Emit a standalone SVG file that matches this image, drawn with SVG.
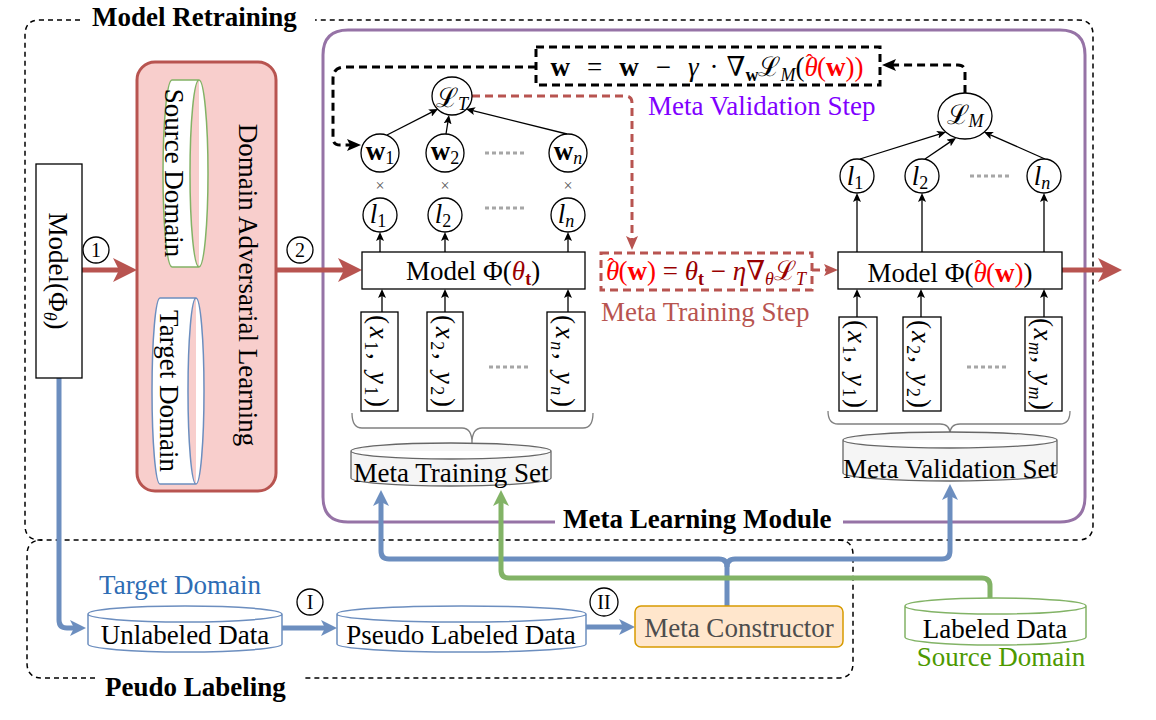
<svg xmlns="http://www.w3.org/2000/svg" width="1156" height="720" viewBox="0 0 1156 720">
<defs>
<style>
text{font-family:"Liberation Serif","DejaVu Serif",serif;font-size:27px;fill:#000}
.b{font-weight:bold}
.i{font-style:italic}
.s{font-size:18px}
.hat{font-size:22px;font-style:normal}
.node{fill:#fff;stroke:#000;stroke-width:1.3}
.thin{fill:none;stroke:#000;stroke-width:1.3}
.red{fill:none;stroke:#b85450;stroke-width:5}
.blue{fill:none;stroke:#6c8ebf;stroke-width:5}
.green{fill:none;stroke:#82b366;stroke-width:5}
.dots{fill:none;stroke:#a6a6a6;stroke-width:3;stroke-dasharray:4 3}
.frame{fill:none;stroke:#000;stroke-width:1.5;stroke-dasharray:5 4}
.bdash{fill:none;stroke:#000;stroke-width:3;stroke-dasharray:8 5}
.rdash{fill:none;stroke:#b85450;stroke-width:3;stroke-dasharray:8 5}
.brace{fill:none;stroke:#808080;stroke-width:1.3}
.gcyl{fill:#f5f5f5;stroke:#666;stroke-width:1.3}
.bcyl{fill:#fff;stroke:#6c8ebf;stroke-width:1.5}
.grcyl{fill:#fff;stroke:#82b366;stroke-width:1.5}
.cnum{font-size:20px}
.times{font-size:16px;fill:#555}
.rd{fill:#ff0000}
.dr{fill:#990000}
</style>
<marker id="aRed" markerUnits="userSpaceOnUse" viewBox="0 0 24 24" markerWidth="24" markerHeight="24" refX="6" refY="12" orient="auto"><path d="M0,0 L24,12 L0,24 L6,12 z" fill="#b85450"/></marker>
<marker id="aBlue" markerUnits="userSpaceOnUse" viewBox="0 0 16 16" markerWidth="16" markerHeight="16" refX="4" refY="8" orient="auto"><path d="M0,0 L16,8 L0,16 L4,8 z" fill="#6c8ebf"/></marker>
<marker id="aGreen" markerUnits="userSpaceOnUse" viewBox="0 0 16 16" markerWidth="16" markerHeight="16" refX="4" refY="8" orient="auto"><path d="M0,0 L16,8 L0,16 L4,8 z" fill="#82b366"/></marker>
<marker id="aBlk" markerUnits="userSpaceOnUse" viewBox="0 0 9 8" markerWidth="9" markerHeight="8" refX="2" refY="4" orient="auto"><path d="M0,0 L9,4 L0,8 L2,4 z" fill="#000"/></marker>
<marker id="aBd" markerUnits="userSpaceOnUse" viewBox="0 0 14 12" markerWidth="14" markerHeight="12" refX="3" refY="6" orient="auto"><path d="M0,0 L14,6 L0,12 L3,6 z" fill="#000"/></marker>
<marker id="aRd" markerUnits="userSpaceOnUse" viewBox="0 0 14 12" markerWidth="14" markerHeight="12" refX="3" refY="6" orient="auto"><path d="M0,0 L14,6 L0,12 L3,6 z" fill="#b85450"/></marker>
</defs>

<g id="model-retraining">
<path class="frame" d="M80,20 L40,20 Q25,20 25,35 L25,525 Q25,540 40,540 L1078,540 Q1093,540 1093,525 L1093,35 Q1093,20 1078,20 L315,20"/>
<text class="b" x="92" y="26">Model Retraining</text>
</g>
<g id="peudo-labeling">
<path class="frame" d="M95,678 L42,678 Q27,678 27,663 L27,555 Q27,540 42,540 M838,540 Q853,540 853,555 L853,663 Q853,678 838,678 L302,678"/>
<text class="b" x="105" y="696">Peudo Labeling</text>
</g>
<g id="meta-learning-module">
<path fill="none" stroke="#9673a6" stroke-width="3" d="M555,522 L348,522 Q323,522 323,497 L323,55 Q323,30 348,30 L1060,30 Q1085,30 1085,55 L1085,497 Q1085,522 1060,522 L843,522"/>
<text class="b" x="563" y="528">Meta Learning Module</text>
</g>

<g id="connectors">
<path class="red" d="M82,270 L119,270" marker-end="url(#aRed)"/>
<path class="red" d="M276,270 L344,270" marker-end="url(#aRed)"/>
<path class="red" d="M1062,270 L1104,270" marker-end="url(#aRed)"/>
<path class="rdash" d="M472,96 L625,96 Q632,96 632,103 L632,239" marker-end="url(#aRd)"/>
<path class="rdash" d="M812,270 L827,270" marker-end="url(#aRd)"/>
<path class="bdash" d="M536,67 L345,67 Q333,67 333,79 L333,138 Q333,145 340,145 L350,145" marker-end="url(#aBd)"/>
<path class="bdash" d="M965,93 L965,72 Q965,65 958,65 L893,65" marker-end="url(#aBd)"/>
<path class="thin" d="M387,135 L431.8,112.2" marker-end="url(#aBlk)"/>
<path class="thin" d="M446,134 L447.9,121.9" marker-end="url(#aBlk)"/>
<path class="thin" d="M567,134 L472.8,110.7" marker-end="url(#aBlk)"/>
<path class="thin" d="M380,252 L380,239" marker-end="url(#aBlk)"/>
<path class="thin" d="M445,252 L445,239" marker-end="url(#aBlk)"/>
<path class="thin" d="M568,252 L568,239" marker-end="url(#aBlk)"/>
<path class="thin" d="M382,312 L382,296" marker-end="url(#aBlk)"/>
<path class="thin" d="M445,312 L445,296" marker-end="url(#aBlk)"/>
<path class="thin" d="M568,312 L568,296" marker-end="url(#aBlk)"/>
<path class="thin" d="M857,252 L857,200" marker-end="url(#aBlk)"/>
<path class="thin" d="M922,252 L922,200" marker-end="url(#aBlk)"/>
<path class="thin" d="M1044,252 L1044,200" marker-end="url(#aBlk)"/>
<path class="thin" d="M857,317 L857,296" marker-end="url(#aBlk)"/>
<path class="thin" d="M921,317 L921,296" marker-end="url(#aBlk)"/>
<path class="thin" d="M1044,317 L1044,296" marker-end="url(#aBlk)"/>
<path class="thin" d="M860,159 L939.3,134.1" marker-end="url(#aBlk)"/>
<path class="thin" d="M925,159 L950.2,141.9" marker-end="url(#aBlk)"/>
<path class="thin" d="M1045,159 L990.4,134.8" marker-end="url(#aBlk)"/>
<path class="blue" d="M59,378 L59,620 Q59,628 67,628 L74,628" marker-end="url(#aBlue)"/>
<path class="blue" d="M282,628 L325,628" marker-end="url(#aBlue)"/>
<path class="blue" d="M586,627 L623,627" marker-end="url(#aBlue)"/>
<path class="blue" d="M727,606 L727,567 Q727,559 719,559 L389,559 Q381,559 381,551 L381,502" marker-end="url(#aBlue)"/>
<path class="blue" d="M727,567 Q727,559 735,559 L942,559 Q950,559 950,551 L950,496" marker-end="url(#aBlue)"/>
<path class="green" d="M990,598 L990,586 Q990,578 982,578 L509,578 Q501,578 501,570 L501,502" marker-end="url(#aGreen)"/>
<circle class="node" cx="96" cy="250" r="13"/><text class="cnum" x="96" y="257" text-anchor="middle">1</text>
<circle class="node" cx="300" cy="250" r="13"/><text class="cnum" x="300" y="257" text-anchor="middle">2</text>
<circle class="node" cx="310" cy="602" r="13"/><text class="cnum" x="310" y="609" text-anchor="middle">I</text>
<circle class="node" cx="604" cy="602" r="14"/><text class="cnum" x="604" y="609" text-anchor="middle">II</text>
</g>

<g id="model-phi">
<rect class="node" x="36" y="164" width="46" height="214"/>
<text transform="translate(49,271) rotate(90)" text-anchor="middle">Model(Φ<tspan class="s i" dy="5">θ</tspan><tspan dy="-5">)</tspan></text>
</g>
<g id="domain-adversarial">
<rect x="137" y="62" width="139" height="429" rx="18" fill="#f8cecc" stroke="#b85450" stroke-width="3"/>
<text transform="translate(239,285) rotate(90)" text-anchor="middle">Domain Adversarial Learning</text>
</g>
<g id="source-domain-cyl">
<path class="grcyl" d="M199,80 A9,93.5 0 0,1 199,267 L172,267 A9,93.5 0 0,1 172,80 Z M199,80 A9,93.5 0 0,0 199,267"/>
<text transform="translate(165,173) rotate(90)" text-anchor="middle">Source Domain</text>
</g>
<g id="target-domain-cyl">
<path class="bcyl" d="M196,298 A8,93 0 0,1 196,484 L160,484 A8,93 0 0,1 160,298 Z M196,298 A8,93 0 0,0 196,484"/>
<text transform="translate(160,391) rotate(90)" text-anchor="middle">Target Domain</text>
</g>

<g id="loss-t">
<ellipse class="node" cx="452" cy="96" rx="20" ry="19"/>
<text x="452" y="107" text-anchor="middle" font-size="26">ℒ<tspan class="s i" dy="3">T</tspan></text>
</g>
<g id="w-nodes">
<circle class="node" cx="380" cy="153" r="19"/><text x="380" y="160" text-anchor="middle"><tspan class="b">w</tspan><tspan class="s" dy="4">1</tspan></text>
<circle class="node" cx="445" cy="153" r="19"/><text x="445" y="160" text-anchor="middle"><tspan class="b">w</tspan><tspan class="s" dy="4">2</tspan></text>
<circle class="node" cx="568" cy="153" r="19"/><text x="568" y="160" text-anchor="middle"><tspan class="b">w</tspan><tspan class="s i" dy="4">n</tspan></text>
<path class="dots" d="M485,153 L525,153"/>
<text class="times" x="380" y="191" text-anchor="middle">×</text>
<text class="times" x="445" y="191" text-anchor="middle">×</text>
<text class="times" x="568" y="191" text-anchor="middle">×</text>
</g>
<g id="l-nodes-t">
<circle class="node" cx="380" cy="215" r="17"/><text x="378" y="223" text-anchor="middle"><tspan class="i">l</tspan><tspan class="s" dy="4">1</tspan></text>
<circle class="node" cx="445" cy="215" r="17"/><text x="443" y="223" text-anchor="middle"><tspan class="i">l</tspan><tspan class="s" dy="4">2</tspan></text>
<circle class="node" cx="568" cy="215" r="17"/><text x="566" y="223" text-anchor="middle"><tspan class="i">l</tspan><tspan class="s i" dy="4">n</tspan></text>
<path class="dots" d="M485,208 L525,208"/>
</g>
<g id="model-theta-t">
<rect class="node" x="362" y="252" width="223" height="37"/>
<text x="473" y="280" text-anchor="middle">Model Φ(<tspan class="i dr">θ</tspan><tspan class="s b dr" dy="5">t</tspan><tspan dy="-5">)</tspan></text>
</g>
<g id="train-samples">
<rect class="node" x="361" y="312" width="37" height="99"/>
<text transform="translate(370,361) rotate(90)" text-anchor="middle" font-size="28" textLength="92" lengthAdjust="spacing">(<tspan class="i">x</tspan><tspan class="s" dy="5">1</tspan><tspan dy="-5">, </tspan><tspan class="i">y</tspan><tspan class="s" dy="5">1</tspan><tspan dy="-5">)</tspan></text>
<rect class="node" x="427" y="312" width="36" height="99"/>
<text transform="translate(436,361) rotate(90)" text-anchor="middle" font-size="28" textLength="92" lengthAdjust="spacing">(<tspan class="i">x</tspan><tspan class="s" dy="5">2</tspan><tspan dy="-5">, </tspan><tspan class="i">y</tspan><tspan class="s" dy="5">2</tspan><tspan dy="-5">)</tspan></text>
<rect class="node" x="547" y="312" width="38" height="99"/>
<text transform="translate(556,361) rotate(90)" text-anchor="middle" font-size="28" textLength="92" lengthAdjust="spacing">(<tspan class="i">x</tspan><tspan class="s i" dy="5">n</tspan><tspan dy="-5">, </tspan><tspan class="i">y</tspan><tspan class="s i" dy="5">n</tspan><tspan dy="-5">)</tspan></text>
<path class="dots" d="M489,367 L529,367"/>
<path class="brace" d="M352,413 Q352,428 362,428 L462,428 Q472,428 472,443 Q472,428 482,428 L583,428 Q593,428 593,413"/>
</g>
<g id="meta-training-set">
<path class="gcyl" d="M351,451 A100,8 0 0,1 551,451 L551,478 A100,8 0 0,1 351,478 Z M351,451 A100,8 0 0,0 551,451"/>
<text x="451" y="482" text-anchor="middle" font-size="26">Meta Training Set</text>
</g>

<g id="meta-validation-step">
<rect class="bdash" x="536" y="47" width="344" height="38"/>
<text x="707" y="76" text-anchor="middle" font-size="28"><tspan class="b">w</tspan><tspan dx="17">=</tspan><tspan class="b" dx="17">w</tspan><tspan dx="17">−</tspan><tspan class="i" dx="17">γ</tspan><tspan dx="11">·</tspan><tspan dx="8">∇</tspan><tspan class="s b" dy="5">w</tspan><tspan dy="-5">ℒ</tspan><tspan class="s i" dy="5">M</tspan><tspan dy="-5">(</tspan><tspan class="i rd">θ</tspan><tspan class="hat rd" dx="-12" dy="-7">ˆ</tspan><tspan class="rd" dx="4" dy="7">(</tspan><tspan class="b rd">w</tspan><tspan class="rd">))</tspan></text>
<text x="648" y="115" style="fill:#7f00ff">Meta Validation Step</text>
</g>
<g id="meta-training-step">
<rect class="rdash" x="601" y="253" width="211" height="37"/>
<text x="706" y="280" text-anchor="middle"><tspan class="i rd">θ</tspan><tspan class="hat rd" dx="-12" dy="-7">ˆ</tspan><tspan class="rd" dx="4" dy="7">(</tspan><tspan class="b rd">w</tspan><tspan class="rd">)</tspan><tspan class="dr"> = </tspan><tspan class="i dr">θ</tspan><tspan class="s b dr" dy="5">t</tspan><tspan class="dr" dy="-5"> − </tspan><tspan class="i dr">η</tspan><tspan class="dr">∇</tspan><tspan class="s i dr" dy="5">θ</tspan><tspan class="dr" dy="-5">ℒ</tspan><tspan class="s i dr" dy="5">T</tspan></text>
<text x="601" y="321" style="fill:#b85450">Meta Training Step</text>
</g>

<g id="loss-m">
<ellipse class="node" cx="965" cy="116" rx="27" ry="23"/>
<text x="965" y="124" text-anchor="middle" font-size="26">ℒ<tspan class="s i" dy="3">M</tspan></text>
</g>
<g id="l-nodes-m">
<circle class="node" cx="857" cy="176" r="17"/><text x="855" y="185" text-anchor="middle"><tspan class="i">l</tspan><tspan class="s" dy="4">1</tspan></text>
<circle class="node" cx="922" cy="176" r="17"/><text x="920" y="185" text-anchor="middle"><tspan class="i">l</tspan><tspan class="s" dy="4">2</tspan></text>
<circle class="node" cx="1044" cy="176" r="17"/><text x="1042" y="185" text-anchor="middle"><tspan class="i">l</tspan><tspan class="s i" dy="4">n</tspan></text>
<path class="dots" d="M970,176 L1010,176"/>
</g>
<g id="model-theta-hat">
<rect class="node" x="838" y="252" width="224" height="37"/>
<text x="950" y="282" text-anchor="middle">Model Φ(<tspan class="i rd">θ</tspan><tspan class="hat rd" dx="-12" dy="-7">ˆ</tspan><tspan class="rd" dx="4" dy="7">(</tspan><tspan class="b rd">w</tspan><tspan class="rd">)</tspan>)</text>
</g>
<g id="val-samples">
<rect class="node" x="839" y="317" width="38" height="94"/>
<text transform="translate(848,364) rotate(90)" text-anchor="middle" font-size="28" textLength="88" lengthAdjust="spacing">(<tspan class="i">x</tspan><tspan class="s" dy="5">1</tspan><tspan dy="-5">, </tspan><tspan class="i">y</tspan><tspan class="s" dy="5">1</tspan><tspan dy="-5">)</tspan></text>
<rect class="node" x="903" y="317" width="38" height="94"/>
<text transform="translate(912,364) rotate(90)" text-anchor="middle" font-size="28" textLength="88" lengthAdjust="spacing">(<tspan class="i">x</tspan><tspan class="s" dy="5">2</tspan><tspan dy="-5">, </tspan><tspan class="i">y</tspan><tspan class="s" dy="5">2</tspan><tspan dy="-5">)</tspan></text>
<rect class="node" x="1025" y="317" width="37" height="94"/>
<text transform="translate(1034,364) rotate(90)" text-anchor="middle" font-size="28" textLength="92" lengthAdjust="spacing">(<tspan class="i">x</tspan><tspan class="s i" dy="5">m</tspan><tspan dy="-5">, </tspan><tspan class="i">y</tspan><tspan class="s i" dy="5">m</tspan><tspan dy="-5">)</tspan></text>
<path class="dots" d="M967,367 L1007,367"/>
<path class="brace" d="M828,411 Q828,424 838,424 L940,424 Q950,424 950,434 Q950,424 960,424 L1060,424 Q1070,424 1070,411"/>
</g>
<g id="meta-validation-set">
<path class="gcyl" d="M843,440 A107,8 0 0,1 1057,440 L1057,473 A107,8 0 0,1 843,473 Z M843,440 A107,8 0 0,0 1057,440"/>
<text x="950" y="478" text-anchor="middle" font-size="25.5">Meta Validation Set</text>
</g>

<g id="unlabeled-data">
<text x="180" y="594" text-anchor="middle" style="fill:#2e6db4">Target Domain</text>
<path class="bcyl" d="M88,614 A97,8 0 0,1 282,614 L282,644 A97,8 0 0,1 88,644 Z M88,614 A97,8 0 0,0 282,614"/>
<text x="185" y="644" text-anchor="middle">Unlabeled Data</text>
</g>
<g id="pseudo-labeled-data">
<path class="bcyl" d="M337,614 A124.5,8 0 0,1 586,614 L586,644 A124.5,8 0 0,1 337,644 Z M337,614 A124.5,8 0 0,0 586,614"/>
<text x="461" y="644" text-anchor="middle">Pseudo Labeled Data</text>
</g>
<g id="meta-constructor">
<rect x="635" y="606" width="208" height="41" rx="6" fill="#ffe6cc" stroke="#d79b00" stroke-width="1.5"/>
<text x="739" y="637" text-anchor="middle" style="fill:#4d4d4d">Meta Constructor</text>
</g>
<g id="labeled-data">
<path class="grcyl" d="M905,606 A90.5,8 0 0,1 1086,606 L1086,637 A90.5,8 0 0,1 905,637 Z M905,606 A90.5,8 0 0,0 1086,606"/>
<text x="995" y="638" text-anchor="middle">Labeled Data</text>
<text x="1001" y="666" text-anchor="middle" style="fill:#4d9900">Source Domain</text>
</g>
</svg>
